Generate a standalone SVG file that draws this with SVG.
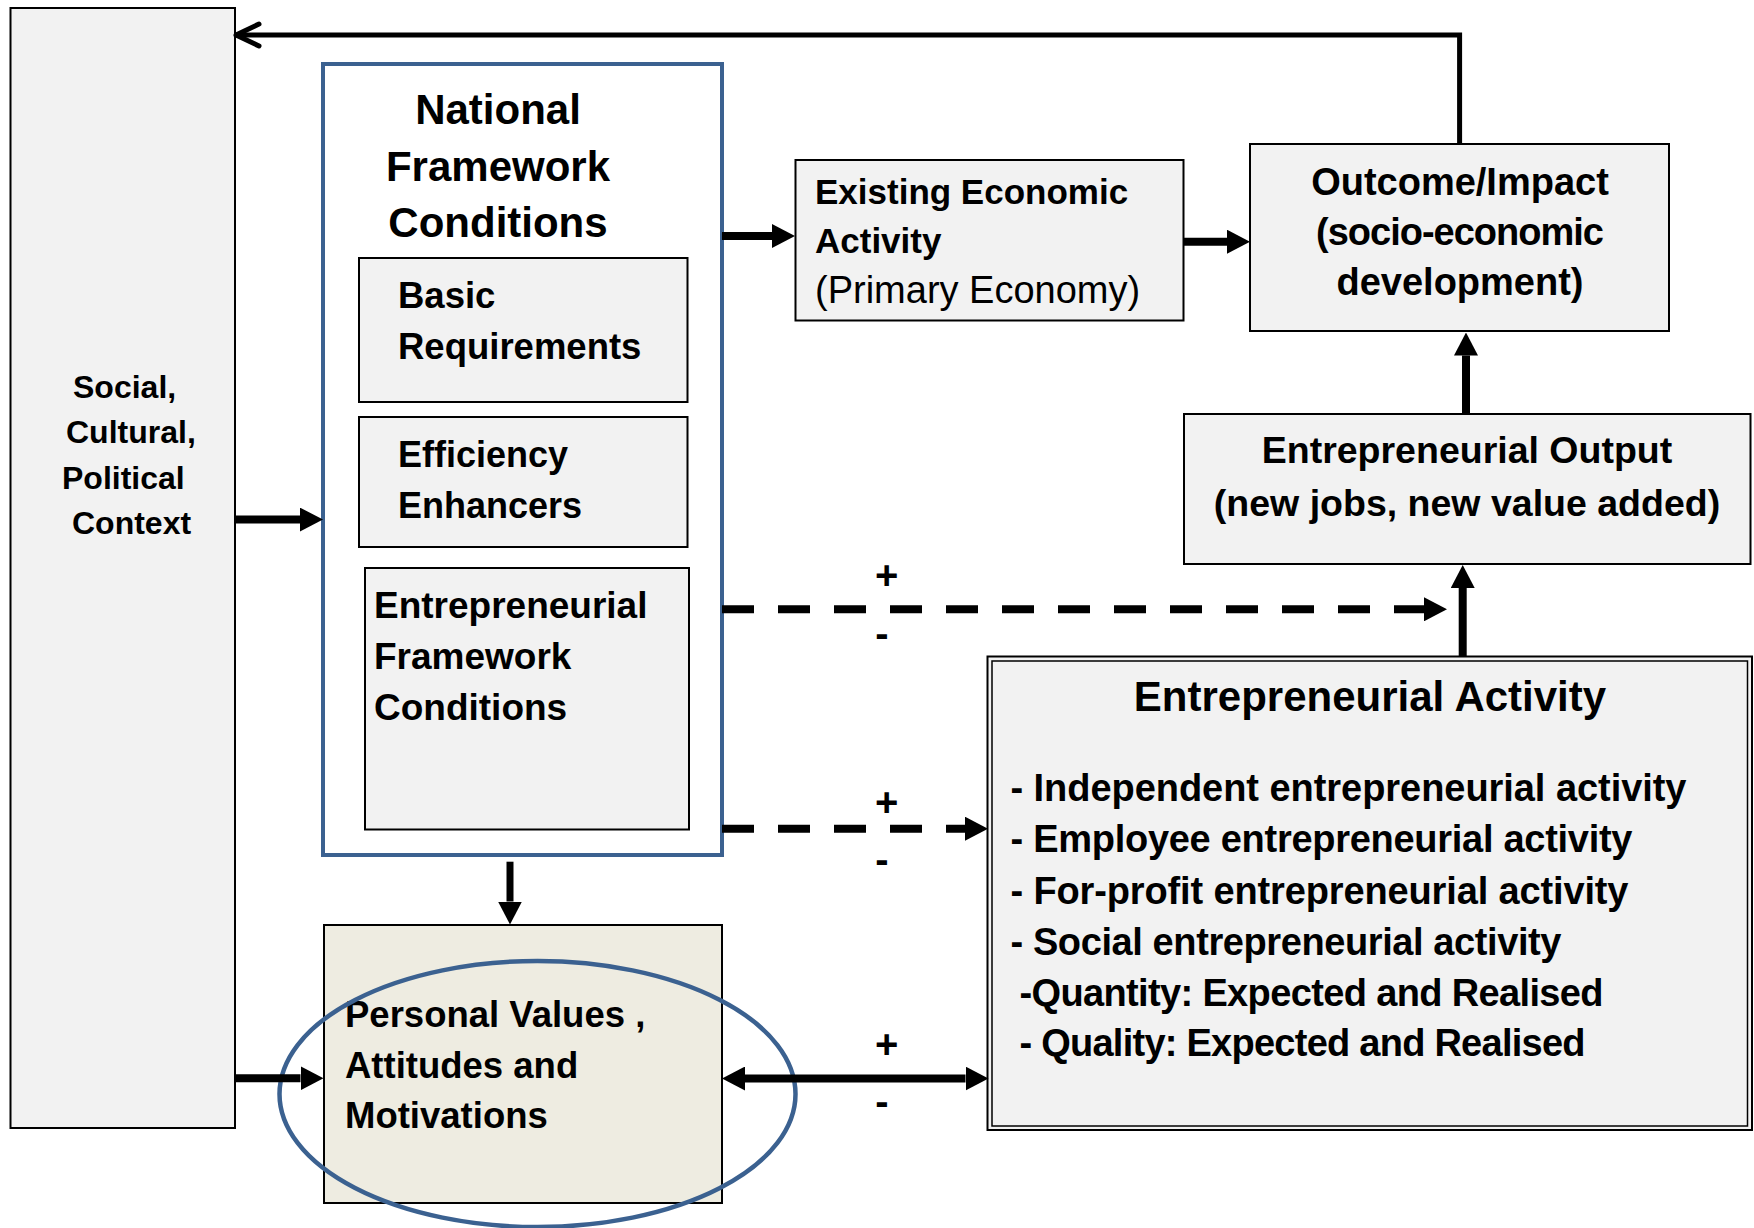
<svg xmlns="http://www.w3.org/2000/svg" width="1754" height="1228" viewBox="0 0 1754 1228">
<style>
text{font-family:"Liberation Sans",Arial,sans-serif;font-weight:bold;fill:#000}
.box{fill:#F2F2F2;stroke:#000;stroke-width:2}
.nfc{fill:#fff;stroke:#3B6190;stroke-width:4}
.pv{fill:#EEECE1;stroke:#000;stroke-width:2}
.ell{fill:none;stroke:#3B6190;stroke-width:4.5}
.c{fill:none;stroke:#000;stroke-width:8}
.fb{fill:none;stroke:#000;stroke-width:5}
.d{fill:none;stroke:#000;stroke-width:8;stroke-dasharray:32 24}
.reg{font-weight:normal}
.sg{font-size:40px;text-anchor:middle}
.mid{text-anchor:middle}
</style>
<defs>
<marker id="ah" markerUnits="userSpaceOnUse" viewBox="0 0 23 24" markerWidth="23" markerHeight="24" refX="0" refY="12" orient="auto-start-reverse">
<path d="M0,0 L23,12 L0,24 z" fill="#000"/>
</marker>
<marker id="chev" markerUnits="userSpaceOnUse" viewBox="-28 -16 32 32" markerWidth="32" markerHeight="32" refX="0" refY="0" orient="auto">
<path d="M-23,-11 L0,0 L-23,11" fill="none" stroke="#000" stroke-width="5" stroke-linecap="round" stroke-linejoin="round"/>
</marker>
</defs>

<g id="context">
<rect class="box" x="10.5" y="8" width="224.5" height="1120"/>
<text font-size="32"><tspan x="73" y="398">Social,</tspan><tspan x="66" y="443">Cultural,</tspan><tspan x="62" y="489">Political</tspan><tspan x="72" y="534">Context</tspan></text>
</g>

<g id="nfc">
<rect class="nfc" x="323" y="64" width="399" height="791"/>
<text font-size="42" class="mid"><tspan x="498" y="124">National</tspan><tspan x="498" y="181">Framework</tspan><tspan x="498" y="237">Conditions</tspan></text>
</g>

<g id="basic">
<rect class="box" x="359" y="258" width="328.5" height="144"/>
<text font-size="36.5"><tspan x="398" y="308">Basic</tspan><tspan x="398" y="359">Requirements</tspan></text>
</g>

<g id="efficiency">
<rect class="box" x="359" y="417" width="328.5" height="130"/>
<text font-size="36"><tspan x="398" y="467">Efficiency</tspan><tspan x="398" y="518">Enhancers</tspan></text>
</g>

<g id="efc">
<rect class="box" x="365" y="568" width="324" height="261.5"/>
<text font-size="37"><tspan x="374" y="618">Entrepreneurial</tspan><tspan x="374" y="669">Framework</tspan><tspan x="374" y="720">Conditions</tspan></text>
</g>

<g id="existing">
<rect class="box" x="795.5" y="160" width="388" height="160.5"/>
<text font-size="35"><tspan x="815" y="204">Existing Economic</tspan><tspan x="815" y="253">Activity</tspan></text>
<text class="reg" font-size="38" x="815" y="303">(Primary Economy)</text>
</g>

<g id="outcome">
<rect class="box" x="1250" y="144" width="419" height="187"/>
<text font-size="38" class="mid"><tspan x="1460" y="195">Outcome/Impact</tspan><tspan x="1460" y="245" textLength="288">(socio-economic</tspan><tspan x="1460" y="295">development)</tspan></text>
</g>

<g id="output">
<rect class="box" x="1184" y="414" width="566.5" height="150"/>
<text font-size="37.5" class="mid"><tspan x="1467" y="463">Entrepreneurial Output</tspan><tspan x="1467" y="516">(new jobs, new value added)</tspan></text>
</g>

<g id="activity">
<rect class="box" x="987.5" y="656.5" width="764.5" height="473.5" fill="#F3F3F3"/>
<rect x="992" y="661" width="755.5" height="465" fill="none" stroke="#000" stroke-width="1.5"/>
<text font-size="42" class="mid" x="1370" y="711">Entrepreneurial Activity</text>
<text font-size="38"><tspan x="1010.5" y="801" textLength="676">- Independent entrepreneurial activity</tspan><tspan x="1010.5" y="852" textLength="622">- Employee entrepreneurial activity</tspan><tspan x="1010.5" y="904" textLength="618">- For-profit entrepreneurial activity</tspan><tspan x="1010.5" y="955" textLength="551">- Social entrepreneurial activity</tspan><tspan x="1019.5" y="1006" textLength="584">-Quantity: Expected and Realised</tspan><tspan x="1019.5" y="1056" textLength="566">- Quality: Expected and Realised</tspan></text>
</g>

<g id="personal">
<rect class="pv" x="324" y="925" width="398" height="278"/>
<text font-size="36.5"><tspan x="345" y="1027">Personal Values ,</tspan><tspan x="345" y="1078">Attitudes and</tspan><tspan x="345" y="1128">Motivations</tspan></text>
<ellipse class="ell" cx="537.5" cy="1094" rx="258" ry="133"/>
</g>

<g id="connectors">
<path class="fb" d="M1459.6,144 V35 H236" marker-end="url(#chev)"/>
<path class="c" d="M235,519.6 H300" marker-end="url(#ah)"/>
<path class="c" d="M235,1078.3 H300.5" marker-end="url(#ah)"/>
<path class="c" d="M722,236 H772" marker-end="url(#ah)"/>
<path class="c" d="M1183,241.7 H1227" marker-end="url(#ah)"/>
<path class="c" d="M1466,413.7 V355.5" marker-end="url(#ah)"/>
<path class="c" d="M1462.7,656 V588" marker-end="url(#ah)"/>
<path class="d" d="M722,609.3 H1424" marker-end="url(#ah)"/>
<path class="d" d="M722,828.7 H965" marker-end="url(#ah)"/>
<path class="c" style="stroke-width:7" d="M510,861.7 V901.5" marker-end="url(#ah)"/>
<path class="c" d="M745,1078.5 H965.5" marker-start="url(#ah)" marker-end="url(#ah)"/>
</g>

<g id="signs">
<text class="sg" x="886.7" y="589">+</text>
<text class="sg" x="882" y="647">-</text>
<text class="sg" x="886.7" y="816">+</text>
<text class="sg" x="882" y="873">-</text>
<text class="sg" x="886.7" y="1058">+</text>
<text class="sg" x="882" y="1115">-</text>
</g>
</svg>
